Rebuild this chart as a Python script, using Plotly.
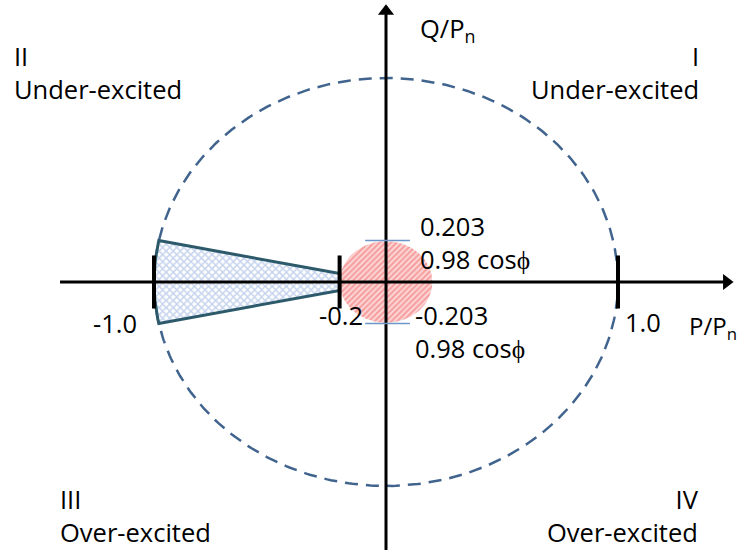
import numpy as np
import plotly.graph_objects as go

# ---- data (per-unit values) ----
tick_p = [-1.0, -0.2, 1.0]
tick_labels = ["-1.0", "-0.2", "1.0"]
q_limit = [0.203, -0.203]
q_limit_labels = ["0.203", "-0.203"]
pf_label = "0.98 cosϕ"
p_min = -0.2          # lower active-power limit of the cone
s_rated = 1.0         # rated apparent power circle
deadband_r = 0.2      # red dead-band circle radius
quadrant_labels = [("II", "Under-excited"), ("I", "Under-excited"),
                   ("III", "Over-excited"), ("IV", "Over-excited")]

FONT = "Open Sans"
FS = 25.5

fig = go.Figure()

# rated circle (dashed)
th = np.linspace(0, 2 * np.pi, 400)
fig.add_trace(go.Scatter(x=s_rated * np.cos(th), y=s_rated * np.sin(th), mode="lines",
                         line=dict(color="#41648f", width=2.5, dash="13px,8px"),
                         hoverinfo="skip", showlegend=False))

# red dead-band disk
fig.add_trace(go.Scatter(x=deadband_r * np.cos(th), y=deadband_r * np.sin(th), mode="lines",
                         fill="toself", line=dict(width=0, color="rgba(0,0,0,0)"),
                         fillcolor="rgba(255,255,255,0)",
                         fillpattern=dict(shape="/", fgcolor="#f26262", bgcolor="#fcdede",
                                          size=4, solidity=0.6),
                         hoverinfo="skip", showlegend=False))

# constant power-factor cone from p_min to the rated circle
tan_phi = q_limit[0] / np.sqrt(s_rated**2 - q_limit[0]**2)
p_edge = -np.sqrt(s_rated**2 - q_limit[0]**2)
a0 = np.pi - np.arcsin(q_limit[0] / s_rated)
a1 = np.pi + np.arcsin(q_limit[0] / s_rated)
arc = np.linspace(a0, a1, 40)
wx = [p_min, p_edge] + list(s_rated * np.cos(arc)) + [p_min, p_min]
wy = [-p_min * tan_phi, q_limit[0]] + list(s_rated * np.sin(arc)) + [p_min * tan_phi, -p_min * tan_phi]
fig.add_trace(go.Scatter(x=wx, y=wy, mode="lines", fill="toself",
                         line=dict(color="#2c5a6b", width=3),
                         fillcolor="rgba(255,255,255,0)",
                         fillpattern=dict(shape="x", fgcolor="#8eaadc", bgcolor="white",
                                          size=5, solidity=0.5),
                         hoverinfo="skip", showlegend=False))

# axes
AX_X = [-1.405, 1.47]
AX_Y = [-1.45, 1.33]
fig.add_trace(go.Scatter(x=AX_X, y=[0, 0], mode="lines", line=dict(color="black", width=3),
                         hoverinfo="skip", showlegend=False))
fig.add_trace(go.Scatter(x=[0, 0], y=AX_Y, mode="lines", line=dict(color="black", width=3),
                         hoverinfo="skip", showlegend=False))
fig.add_trace(go.Scatter(x=[1.468], y=[0], mode="markers",
                         marker=dict(symbol="triangle-right", size=14, color="black"),
                         hoverinfo="skip", showlegend=False))
fig.add_trace(go.Scatter(x=[0], y=[1.327], mode="markers",
                         marker=dict(symbol="triangle-up", size=14, color="black"),
                         hoverinfo="skip", showlegend=False))

# tick bars
TH = 0.13
for p in tick_p:
    fig.add_trace(go.Scatter(x=[p, p], y=[-TH, TH], mode="lines",
                             line=dict(color="black", width=4),
                             hoverinfo="skip", showlegend=False))

# q-limit markers
for q in q_limit:
    fig.add_trace(go.Scatter(x=[-0.09, 0.103], y=[q, q], mode="lines",
                             line=dict(color="#6d96c8", width=1.5),
                             hoverinfo="skip", showlegend=False))

def txt(x, y, s, xa="left", ya="middle", size=FS):
    fig.add_annotation(x=x, y=y, text=s, showarrow=False, xanchor=xa, yanchor=ya,
                       align=xa if xa in ("left", "right") else "center",
                       font=dict(family=FONT, size=size, color="black"))

# quadrant labels (two lines each)
txt(-1.612, 1.027, "<br>".join(quadrant_labels[0]))
txt(1.358, 1.027, "<br>".join(quadrant_labels[1]), xa="right")
txt(-1.414, -1.145, "<br>".join(quadrant_labels[2]))
txt(1.358, -1.145, "<br>".join(quadrant_labels[3]), xa="right")

# axis titles
txt(0.138, 1.24, "Q/P<sub>n</sub>")
txt(1.522, -0.22, "P/P<sub>n</sub>", xa="right", size=24)

# tick labels
txt(-1.065, -0.201, tick_labels[0], xa="right")
txt(-0.091, -0.162, tick_labels[1], xa="right")
txt(1.021, -0.196, tick_labels[2])

# q limit labels
txt(0.138, 0.196, q_limit_labels[0] + "<br>" + pf_label)
txt(0.116, -0.245, q_limit_labels[1] + "<br>" + pf_label)

# ranges: origin at (386, 282) px, 232 px per unit in P, 204 px per unit in Q
fig.update_layout(
    width=740, height=550,
    margin=dict(l=0, r=0, t=0, b=0),
    paper_bgcolor="white", plot_bgcolor="white",
    xaxis=dict(range=[-386 / 232, (740 - 386) / 232], visible=False, fixedrange=True),
    yaxis=dict(range=[(282 - 550) / 204, 282 / 204], visible=False, fixedrange=True),
    showlegend=False,
)

fig.write_html("out.html", config={"displayModeBar": False},
               post_script="document.body.style.margin='0';document.body.style.overflow='hidden';")
